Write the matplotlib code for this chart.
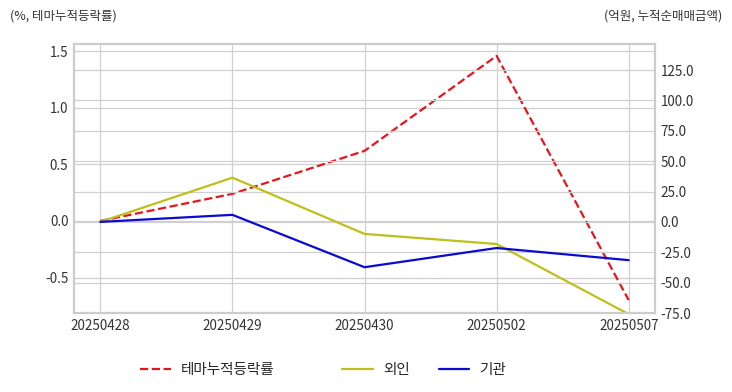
import matplotlib
matplotlib.use('Agg')
import matplotlib.pyplot as plt
import seaborn as sns

sns.set_style('whitegrid')
plt.rcParams['font.family'] = ['Noto Sans CJK KR', 'DejaVu Sans']
plt.rcParams['axes.unicode_minus'] = False

dates = ['20250428', '20250429', '20250430', '20250502', '20250507']
theme_rate = [0.0, 0.24, 0.62, 1.46, -0.70]
foreign = [0.0, 36.4, -9.9, -18.2, -76.0]
institution = [0.0, 5.8, -37.3, -21.5, -31.5]

fig = plt.figure(figsize=(7.32, 3.92), dpi=100)
ax = fig.add_axes([0.101, 0.2015, 0.794, 0.6865])
ax2 = ax.twinx()

x = range(len(dates))
l1, = ax.plot(x, theme_rate, color='#e8141c', linestyle='--', linewidth=1.6, label='테마누적등락률')
l2, = ax2.plot(x, foreign, color='#bfbf1a', linewidth=1.6, label='외인')
l3, = ax2.plot(x, institution, color='#0a0ad2', linewidth=1.6, label='기관')

ax.set_xlim(-0.2, 4.2)
ax.set_ylim(-0.814, 1.566)
ax2.set_ylim(-75, 146.5)
ax.set_yticks([-0.5, 0.0, 0.5, 1.0, 1.5])
ax2.set_yticks([-75, -50, -25, 0, 25, 50, 75, 100, 125])
ax.yaxis.set_major_formatter(matplotlib.ticker.FormatStrFormatter('%.1f'))
ax2.yaxis.set_major_formatter(matplotlib.ticker.FormatStrFormatter('%.1f'))
ax.set_xticks(list(x))
ax.set_xticklabels(dates)

for a in (ax, ax2):
    a.tick_params(labelsize=9.7, colors='#333333', length=0, pad=4)
    a.grid(True, color='#d0d0d0', linewidth=0.9)
    for s in a.spines.values():
        s.set_color('#cccccc')
        s.set_linewidth(1.5)

fig.text(0.013, 0.958, '(%, 테마누적등락률)', fontsize=9, color='#333333', ha='left', va='center')
fig.text(0.987, 0.958, '(억원, 누적순매매금액)', fontsize=9, color='#333333', ha='right', va='center')

leg_kw = dict(frameon=False, fontsize=10.5, handlelength=2.1, handletextpad=0.7,
              borderaxespad=0, borderpad=0)
fig.legend(handles=[l1], loc='center left', bbox_to_anchor=(140 / 732, 0.056), **leg_kw)
fig.legend(handles=[l2, l3], loc='center left', bbox_to_anchor=(342 / 732, 0.056),
           ncol=2, columnspacing=2.0, **leg_kw)

fig.savefig('out.png', dpi=100)
